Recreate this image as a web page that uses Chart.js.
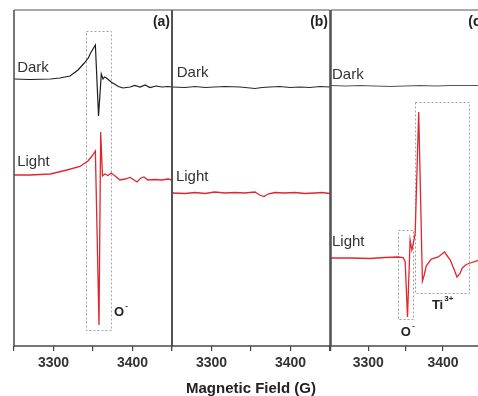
<!DOCTYPE html>
<html><head><meta charset="utf-8">
<script src="https://cdn.jsdelivr.net/npm/chart.js@4/dist/chart.umd.min.js"></script>
<style>
html,body{margin:0;padding:0;background:#fff;overflow:hidden;}
#wrap{position:relative;width:478px;height:396px;overflow:hidden;background:#fff;}
#wrap canvas{position:absolute;left:0;top:0;}
</style></head><body>
<div id="wrap">
<canvas id="pa" width="490" height="396"></canvas>
<canvas id="pb" width="490" height="396"></canvas>
<canvas id="pc" width="490" height="396"></canvas>
</div>
<script>
// ---- Data (magnetic field in G, EPR intensity in arbitrary units) ----
const tickLabels = [3300, 3400];
const seriesNames = ['Dark', 'Light'];
const panelTags = ['(a)', '(b)', '(c)'];
const axisTitle = 'Magnetic Field (G)';

// Panel (a)
const fieldDarkA = [3250,3270,3296,3308,3321,3331,3339,3344,3347,3353,3357,3360.5,3362.7,3364.6,3367,3373,3382,3388,3397,3403,3409.5,3416,3422,3430,3437,3445,3450];
const darkA      = [267,266.5,267,268,270,276,283,288,293,301,230,272,267,269,268,264,259.5,258,259,260.5,259,261,258.5,260,259,259.5,259];
const fieldLightA = [3250,3270,3296,3317,3333.5,3343.7,3348.7,3353,3357.6,3359.7,3362,3365,3369,3373,3378,3384,3390.5,3397,3402,3405.7,3410.7,3414.5,3419.6,3428.5,3437,3445,3450];
const lightA      = [171,171,172,176,179.5,185,190,195,21,214,170,172,170.5,173,170,166,167,168.5,166,164,168,169,166,166.5,166,167,166];

// Panel (b)
const fieldDarkB = [3250,3266.5,3279,3292,3304,3317,3336,3349,3355,3364,3374,3386.7,3399,3412,3424.7,3437,3450];
const darkB      = [259,258.5,259.5,258.5,259,259.5,259,258,257.5,258.5,259,259.5,258.5,259,258.5,259.5,259];
const fieldLightB = [3250,3266.5,3279,3292,3304,3317,3330,3342,3355,3361,3366.5,3371.5,3380,3393,3405.7,3418,3431,3440,3450];
const lightB      = [153,152.5,153.5,152.5,154,153,153.5,153,154,151,149.5,152,153.5,153,153.5,152.5,153,153.5,152.5];

// Panel (c)
const fieldDarkC = [3250,3269,3289,3309,3329,3349,3369.5,3389.6,3410,3430,3455];
const darkC      = [260.5,260,260.5,260,259.5,260,260.5,260,260.5,260.5,260.5];
const fieldLightC = [3250,3275.5,3302.4,3322.5,3340,3346.7,3349.4,3352.5,3356,3358.3,3360.4,3362.8,3367.5,3372.5,3374.9,3377.6,3384.3,3393.7,3402.1,3409.8,3415.2,3418.8,3422.5,3425.9,3431.3,3436.6,3447.4,3455];
const lightC      = [88,88,87.5,88.5,89,88.5,84,29,106,96,103,113,234,65,71,80,87,89,94,86,76,69,72,78,81.5,83,85.5,86];

const pts = (xs, ys) => xs.map((v, i) => ({x: v, y: ys[i]}));

const FONT = "'Liberation Sans', Arial, sans-serif";

const deco = {
  id: 'panelDeco',
  beforeDatasetsDraw(chart, args, o) {
    const {ctx, scales: {x, y}} = chart;
    ctx.save();
    ctx.setLineDash([2, 2]);
    ctx.strokeStyle = '#a0a0a0';
    ctx.lineWidth = 1;
    (o.boxes || []).forEach(b => {
      const x1 = Math.round(x.getPixelForValue(b[0])) + 0.5;
      const x2 = Math.round(x.getPixelForValue(b[1])) + 0.5;
      const y1 = Math.round(y.getPixelForValue(b[2])) + 0.5;
      const y2 = Math.round(y.getPixelForValue(b[3])) + 0.5;
      ctx.strokeRect(x1, y1, x2 - x1, y2 - y1);
    });
    ctx.restore();
  },
  afterDraw(chart, args, o) {
    const {ctx, scales: {x, y}, chartArea: a} = chart;
    ctx.save();
    // series labels
    ctx.textBaseline = 'middle';
    (o.labels || []).forEach(l => {
      ctx.font = `${l.bold ? 'bold ' : ''}${l.size}px ${FONT}`;
      ctx.fillStyle = l.color || '#333';
      ctx.textAlign = l.align || 'left';
      const px = x.getPixelForValue(l.x), py = y.getPixelForValue(l.y);
      ctx.fillText(l.text, px, py);
      if (l.sup) {
        const w = ctx.measureText(l.text).width;
        ctx.font = `bold 8px ${FONT}`;
        ctx.textAlign = 'left';
        ctx.fillText(l.sup, px + w + 1, py - 6);
      }
    });
    // frame
    ctx.lineWidth = 1.5;
    ctx.strokeStyle = '#8c8c8c';
    ctx.beginPath(); ctx.moveTo(a.left, a.top); ctx.lineTo(a.right, a.top); ctx.stroke();
    ctx.strokeStyle = '#4a4a4a';
    ctx.beginPath();
    ctx.moveTo(a.left, a.top); ctx.lineTo(a.left, a.bottom); ctx.lineTo(a.right, a.bottom); ctx.lineTo(a.right, a.top);
    ctx.stroke();
    ctx.restore();
  }
};

function panel(id, left, right, xmax, dark, light, deco_opts, withTitle, darkColor) {
  new Chart(document.getElementById(id), {
    type: 'line',
    data: {
      datasets: [
        {label: seriesNames[0], data: dark, borderColor: darkColor, borderWidth: 1.2, pointRadius: 0, tension: 0},
        {label: seriesNames[1], data: light, borderColor: '#e0262e', borderWidth: 1.3, pointRadius: 0, tension: 0}
      ]
    },
    options: {
      responsive: false,
      animation: false,
      devicePixelRatio: 1,
      layout: {padding: {left: left, right: 490 - right, top: 10, bottom: 0}},
      plugins: {legend: {display: false}, tooltip: {enabled: false}, panelDeco: deco_opts},
      scales: {
        x: {
          type: 'linear', min: 3250, max: xmax,
          afterFit: s => { s.height = 50; },
          ticks: {
            stepSize: 50, autoSkip: false, maxRotation: 0, padding: 4,
            color: '#333', font: {family: FONT, size: 14, weight: 'bold'},
            callback: v => tickLabels.includes(v) ? String(v) : ''
          },
          grid: {drawOnChartArea: false, drawTicks: true, tickLength: 5, color: '#444', lineWidth: 1.2},
          border: {display: false},
          title: {display: withTitle, text: axisTitle, color: '#222', padding: 0,
                  font: {family: FONT, size: 15, weight: 'bold', lineHeight: 1}}
        },
        y: {display: false, min: 0, max: 336}
      }
    },
    plugins: [deco]
  });
}

panel('pa', 14, 172, 3450, pts(fieldDarkA, darkA), pts(fieldLightA, lightA), {
  boxes: [[3341, 3373, 315, 16]],
  labels: [
    {text: seriesNames[0], x: 3254, y: 278, size: 15},
    {text: seriesNames[1], x: 3254, y: 184, size: 15},
    {text: panelTags[0], x: 3447.5, y: 324, size: 14, bold: true, align: 'right', color: '#222'},
    {text: 'O', sup: '-', x: 3376.6, y: 34, size: 13, bold: true, color: '#222'}
  ]
}, false, '#1e1e1e');

panel('pb', 172, 330, 3450, pts(fieldDarkB, darkB), pts(fieldLightB, lightB), {
  labels: [
    {text: seriesNames[0], x: 3256, y: 273, size: 15},
    {text: seriesNames[1], x: 3255, y: 169, size: 15},
    {text: panelTags[1], x: 3447.5, y: 324, size: 14, bold: true, align: 'right', color: '#222'}
  ]
}, true, '#2a2a2a');

panel('pc', 331, 484, 3455, pts(fieldDarkC, darkC), pts(fieldLightC, lightC), {
  boxes: [[3340.4, 3359.8, 116, 27], [3362, 3434.4, 244, 53]],
  labels: [
    {text: seriesNames[0], x: 3251.3, y: 271, size: 15},
    {text: seriesNames[1], x: 3251.3, y: 104, size: 15},
    {text: panelTags[2], x: 3434, y: 324, size: 14, bold: true, align: 'left', color: '#222'},
    {text: 'O', sup: '-', x: 3343.6, y: 14, size: 13, bold: true, color: '#222'},
    {text: 'Ti', sup: '3+', x: 3385.2, y: 41, size: 13, bold: true, color: '#222'}
  ]
}, false, '#555');
</script>
</body></html>
